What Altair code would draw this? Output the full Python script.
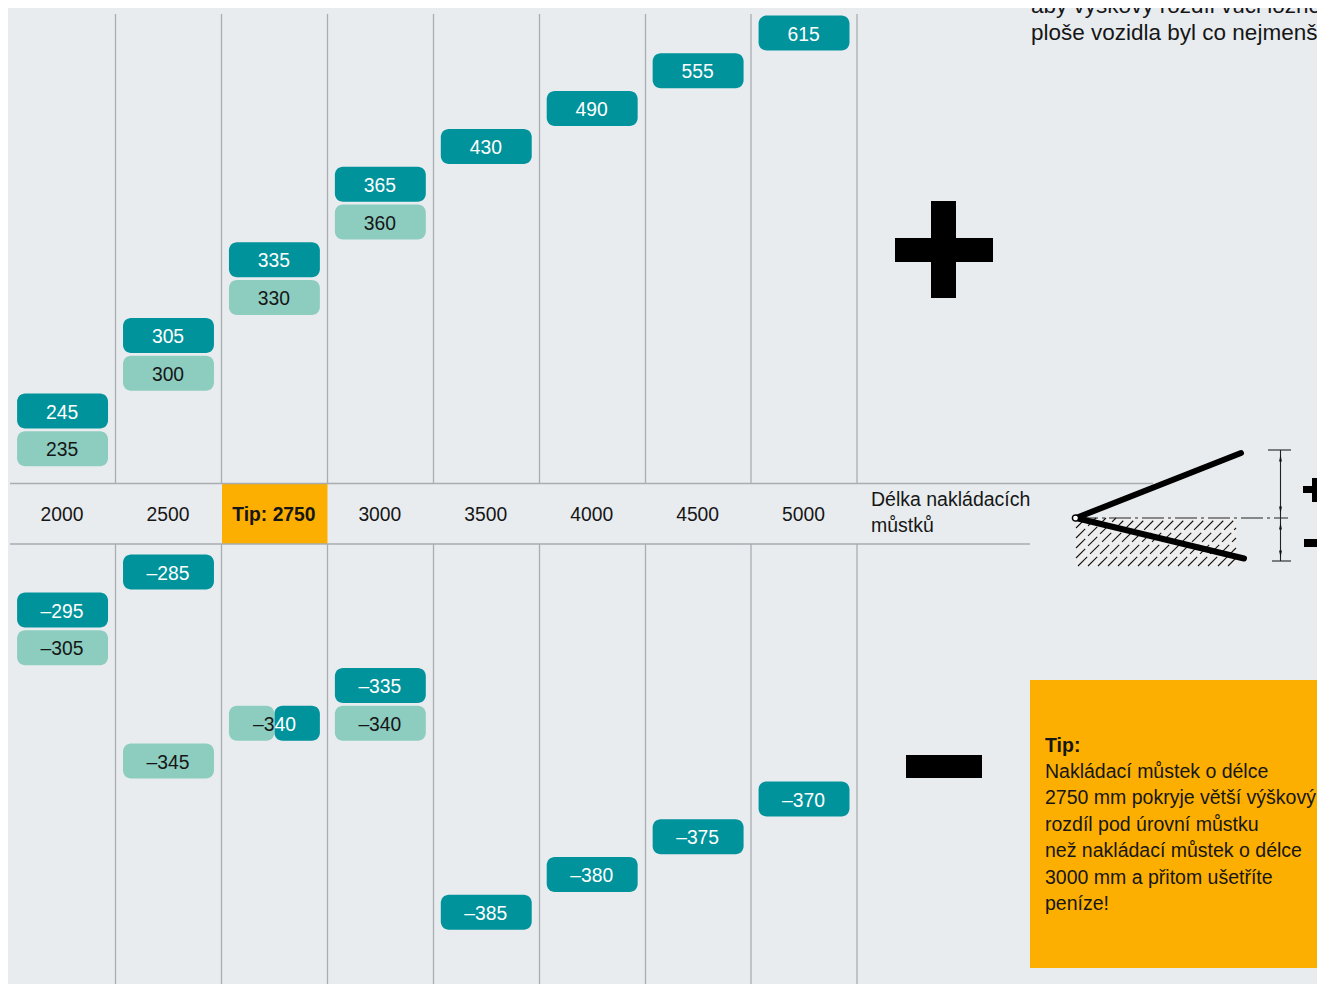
import altair as alt
import pandas as pd

# ---------- values ----------
lengths = [2000, 2500, 2750, 3000, 3500, 4000, 4500, 5000]
above_dark = [245, 305, 335, 365, 430, 490, 555, 615]
above_light = [235, 300, 330, 360, None, None, None, None]
below_dark = [-295, -285, -340, -335, -385, -380, -375, -370]
below_light = [-305, -345, -340, -340, None, None, None, None]
tip_length = 2750
axis_title = ["Délka nakládacích", "můstků"]
top_lines = ["aby výškový rozdíl vůči ložné", "ploše vozidla byl co nejmenší."]
tip_lines = ["Nakládací můstek o délce", "2750 mm pokryje větší výškový", "rozdíl pod úrovní můstku",
             "než nakládací můstek o délce", "3000 mm a přitom ušetříte", "peníze!"]

# ---------- styles ----------
BG = "#e8ecef"
DARK = "#00939b"
LIGHT = "#8ccdc0"
AMBER = "#fcaf00"
RULE = "#a9adb0"
INK = "#161616"
FONT = "Liberation Sans"
FS = 19.3
FS_PROSE = 19.5
M = 8  # page margin


def label(v):
    return str(v).replace("-", "–")


def long_table(dark, light):
    rows = []
    for l, d, li in zip(lengths, dark, light):
        rows.append({"length": l, "value": d, "series": "dark", "label": label(d)})
        if li is not None:
            rows.append({"length": l, "value": li, "series": "light", "label": label(li)})
    return pd.DataFrame(rows)


x_scale = alt.Scale(domain=lengths, range=[9.6 - M, 857 - M], paddingInner=15 / 106, paddingOuter=7.5 / 106)
X = alt.X("length:O", scale=x_scale, axis=None)
px_x = alt.Scale(domain=[M, 1317], range=[0, 1309])
px_y = alt.Scale(domain=[M, 984], range=[0, 976])
series_color = alt.Color("series:N", scale=alt.Scale(domain=["dark", "light"], range=[DARK, LIGHT]), legend=None)
text_color = alt.Color("series:N", scale=alt.Scale(domain=["dark", "light"], range=["#ffffff", INK]), legend=None)


def panel(df, top, bottom):
    order = sorted(df["value"].unique(), reverse=True)
    ys = alt.Scale(domain=[int(v) for v in order], range=[top - M, bottom - M],
                   paddingInner=2.8 / 37.8, paddingOuter=1.4 / 37.8)
    Y = alt.Y("value:O", scale=ys, axis=None)
    is_tip = (df["length"] == tip_length) & (df["value"] == -340)
    whole = df[~is_tip]
    out = [
        alt.Chart(whole).mark_rect(cornerRadius=8).encode(x=X, y=Y, color=series_color),
        alt.Chart(whole).mark_text(font=FONT, fontSize=FS, dx=-0.5, dy=1.6).encode(x=X, y=Y, text="label:N", color=text_color),
    ]
    tip = df[is_tip]
    if len(tip):
        out.append(
            alt.Chart(tip).mark_rect(cornerRadius=8).encode(
                x=X, y=Y, color=series_color,
                xOffset=alt.XOffset("series:N", scale=alt.Scale(domain=["light", "dark"]))))
        t = tip.iloc[0]["label"]
        head = pd.DataFrame([{"length": tip_length, "value": -340, "label": t[:2]}])
        tail = pd.DataFrame([{"length": tip_length, "value": -340, "label": t[2:]}])
        out.append(alt.Chart(head).mark_text(font=FONT, fontSize=FS, align="right", color=INK, dx=0, dy=1.6)
                   .encode(x=X, y=Y, text="label:N"))
        out.append(alt.Chart(tail).mark_text(font=FONT, fontSize=FS, align="left", color="#ffffff", dx=0, dy=1.6)
                   .encode(x=X, y=Y, text="label:N"))
    return out


def segs(rows, width, color, **kw):
    df = pd.DataFrame(rows, columns=["x", "y", "x2", "y2"])
    return alt.Chart(df).mark_rule(strokeWidth=width, color=color, **kw).encode(
        x=alt.X("x:Q", scale=px_x, axis=None), x2="x2:Q",
        y=alt.Y("y:Q", scale=px_y, axis=None), y2="y2:Q")


def box(x, y, x2, y2, color):
    df = pd.DataFrame([{"x": x, "y": y, "x2": x2, "y2": y2}])
    return alt.Chart(df).mark_rect(color=color).encode(
        x=alt.X("x:Q", scale=px_x, axis=None), x2="x2:Q",
        y=alt.Y("y:Q", scale=px_y, axis=None), y2="y2:Q")


def words(rows, **kw):
    df = pd.DataFrame(rows, columns=["x", "y", "t"])
    opts = dict(font=FONT, fontSize=FS_PROSE, color=INK, align="left")
    opts.update(kw)
    return alt.Chart(df).mark_text(**opts).encode(
        x=alt.X("x:Q", scale=px_x, axis=None),
        y=alt.Y("y:Q", scale=px_y, axis=None), text="t:N")


def arrowheads(rows, shape):
    df = pd.DataFrame(rows, columns=["x", "y"])
    return alt.Chart(df).mark_point(filled=True, color="#111111", opacity=1, size=49, shape=shape).encode(
        x=alt.X("x:Q", scale=px_x, axis=None), y=alt.Y("y:Q", scale=px_y, axis=None))


layers = []

# amber header cell and tip box
layers.append(box(222, 484, 327.5, 544, AMBER))
layers.append(box(1030, 680, 1325, 968, AMBER))

# grid
col_edges = [115.5, 221.5, 327.5, 433.5, 539.5, 645.5, 751, 857]
layers.append(segs([[e, 14, e, 483] for e in col_edges] + [[e, 544, e, 984] for e in col_edges]
                   + [[10, 483.5, 1153, 483.5], [10, 544, 1030, 544]], 1.3, RULE))

# value chips
layers += panel(long_table(above_dark, above_light), 14.1, 467.7)
layers += panel(long_table(below_dark, below_light), 553.2, 931.2)

# header labels
header = pd.DataFrame({"length": lengths,
                       "label": [("Tip: %d" % l) if l == tip_length else str(l) for l in lengths],
                       "w": ["bold" if l == tip_length else "normal" for l in lengths]})
for w in ["normal", "bold"]:
    layers.append(alt.Chart(header[header.w == w]).mark_text(font=FONT, fontSize=FS, color=INK, fontWeight=w, dx=-0.5).encode(
        x=X, y=alt.value(514.5 - M), text="label:N"))

layers.append(words([[871, 500, axis_title[0]], [871, 526, axis_title[1]]]))

# big plus and minus
layers += [box(895, 238, 993, 262, "#000000"), box(931, 201, 956, 298, "#000000"),
           box(906, 755, 982, 778, "#000000"),
           box(1303, 486, 1325, 493, "#000000"), box(1312, 478, 1318, 502, "#000000"),
           box(1304, 539, 1325, 547, "#000000")]

# wedge diagram: hatched ground
hx0, hx1, hy0, hy1 = 1076, 1236, 518, 566
layers.append(box(hx0, hy0, hx1, hy1, "#eeeeee"))
hatch = []
c = hx0 - 48
while c < hx1:
    xa, ya, xb, yb = c, hy1, c + 48, hy0
    if xa < hx0:
        ya -= hx0 - xa
        xa = hx0
    if xb > hx1:
        yb += xb - hx1
        xb = hx1
    hatch.append([xa, ya, xb, yb])
    c += 10
layers.append(segs(hatch, 1.1, "#111111", strokeDash=[13, 4]))
layers.append(segs([[1076, 518, 1288, 518]], 1.1, "#222222", strokeDash=[22, 4, 3, 4]))
layers.append(segs([[1076, 518, 1241, 453], [1076, 518, 1244, 558.5]], 6, "#000000", strokeCap="round"))
pivot = pd.DataFrame([{"x": 1075.5, "y": 518}])
layers.append(alt.Chart(pivot).mark_point(filled=True, fill="#ffffff", stroke="#000000", strokeWidth=1.5,
                                          opacity=1, size=38).encode(
    x=alt.X("x:Q", scale=px_x, axis=None), y=alt.Y("y:Q", scale=px_y, axis=None)))
layers.append(segs([[1268, 450, 1291, 450], [1272, 561, 1291, 561],
                    [1280.5, 450, 1280.5, 561]], 1.1, "#222222"))
UP = "M-0.4,1L0,-1L0.4,1Z"
DOWN = "M-0.4,-1L0,1L0.4,-1Z"
layers.append(arrowheads([[1280.5, 458], [1280.5, 526]], UP))
layers.append(arrowheads([[1280.5, 510], [1280.5, 554]], DOWN))

# running text
layers.append(words([[1031, 6, top_lines[0]], [1031, 33, top_lines[1]]], fontSize=22.5))
layers.append(words([[1045, 745.5, "Tip:"]], fontWeight="bold"))
layers.append(words([[1045, 772 + 26.4 * i, line] for i, line in enumerate(tip_lines)]))

chart = alt.layer(*layers).resolve_scale(x="independent", y="independent", color="independent").properties(
    width=1309, height=976, padding=0, autosize=alt.AutoSizeParams(type="none"), background=BG
).configure_view(strokeWidth=0)

chart.save("out.html", embed_options={"renderer": "svg", "actions": False})
